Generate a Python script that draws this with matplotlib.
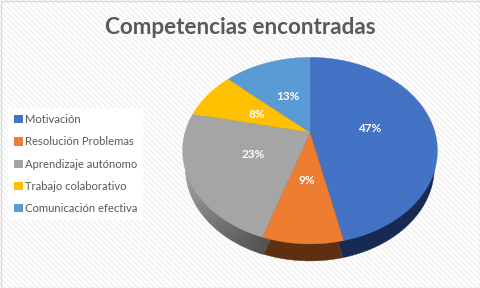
import numpy as np
import matplotlib
matplotlib.use('Agg')
import matplotlib.pyplot as plt
from matplotlib.patches import Polygon, Patch, Rectangle

categories = ['Motivación', 'Resolución Problemas', 'Aprendizaje autónomo',
              'Trabajo colaborativo', 'Comunicación efectiva']
values = [46.51, 8.51, 23.4, 8.3, 13.28]
colors = ['#4472C4', '#ED7D31', '#A5A5A5', '#FFC000', '#5B9BD5']
side_colors = ['#172B52', '#5F2F12', '#626262', '#7F6000', '#2E5C8A']
title = 'Competencias encontradas'

plt.rcParams['font.family'] = ['Lato', 'DejaVu Sans']
plt.rcParams['hatch.linewidth'] = 1.0

# perspective of the tilted disc, in pixels
cx, cy = 310, 132.3
A, B, k = 125, 89.7, 0.1965
depth = 17
shrink = 0.975


def project(angle):
    # angle clockwise from the top of the disc
    u = np.sin(angle)
    v = np.cos(angle)
    w = 1 + k * v
    return cx + A * u / w, cy - B * v / w


def project_low(angle):
    x, y = project(angle)
    return cx + (x - cx) * shrink, y + depth


fig = plt.figure(figsize=(4.8, 2.88), dpi=100)
ax = fig.add_axes([0, 0, 1, 1])
ax.set_xlim(0, 480)
ax.set_ylim(288, 0)
ax.axis('off')

ax.add_patch(Rectangle((0, 0), 480, 288, facecolor='white', edgecolor='#f0f0f0',
                       hatch='\\\\\\\\\\\\', linewidth=0, zorder=0))
ax.add_patch(Rectangle((0.5, 0.5), 479, 287, facecolor='none', edgecolor='#d9d9d9',
                       linewidth=1, zorder=1))

fractions = np.array(values) / sum(values)
edges = np.concatenate([[0], np.cumsum(fractions)]) * 2 * np.pi

# lower disc sits under the top face, only its rim shows
for i in range(len(values)):
    if i == 2:
        # grey wall fades towards the left
        steps = np.linspace(edges[i], edges[i + 1], 50)
        for a0, a1 in zip(steps[:-1], steps[1:]):
            t = np.clip((np.degrees(a0) - 200) / 65, 0, 1)
            col = (np.array([0.33, 0.33, 0.33]) * (1 - t) +
                   np.array([0.70, 0.70, 0.70]) * t)
            x0, y0 = project_low(a0)
            x1, y1 = project_low(a1)
            ax.add_patch(Polygon([(cx, cy + depth), (x0, y0), (x1, y1)], facecolor=col,
                                 edgecolor=col, linewidth=0.8, zorder=2))
    else:
        steps = np.linspace(edges[i], edges[i + 1], 120)
        xs, ys = project_low(steps)
        pts = [(cx, cy + depth)] + list(zip(xs, ys))
        ax.add_patch(Polygon(pts, facecolor=side_colors[i], edgecolor=side_colors[i],
                             linewidth=0.3, zorder=2))

# top face
for i in range(len(values)):
    steps = np.linspace(edges[i], edges[i + 1], 120)
    xs, ys = project(steps)
    pts = [(cx, cy)] + list(zip(xs, ys))
    ax.add_patch(Polygon(pts, facecolor=colors[i], edgecolor=colors[i],
                         linewidth=0.2, zorder=3))

# percent labels
label_x = [370, 307, 253, 257, 288]
label_y = [128, 181, 155, 114, 96]
for i in range(len(values)):
    ax.text(label_x[i], label_y[i], '%d%%' % round(values[i]), color='white',
            fontsize=8.5, fontweight='bold', ha='center', va='center', zorder=4)

ax.text(240, 27, title, color='#595959', fontsize=16.2, fontweight='bold',
        ha='center', va='center', zorder=4)

handles = [Patch(facecolor=c, label=n) for c, n in zip(colors, categories)]
leg = ax.legend(handles=handles, loc='upper left', bbox_to_anchor=(8 / 480, 1 - 108 / 288),
                frameon=True, facecolor='white', edgecolor='none', framealpha=1,
                fancybox=False, borderaxespad=0, borderpad=0.55, fontsize=8.1,
                labelcolor='#595959', handlelength=0.75, handleheight=0.75,
                handletextpad=0.2, labelspacing=1.0)
leg.set_zorder(5)

fig.savefig('out.png', dpi=100)
